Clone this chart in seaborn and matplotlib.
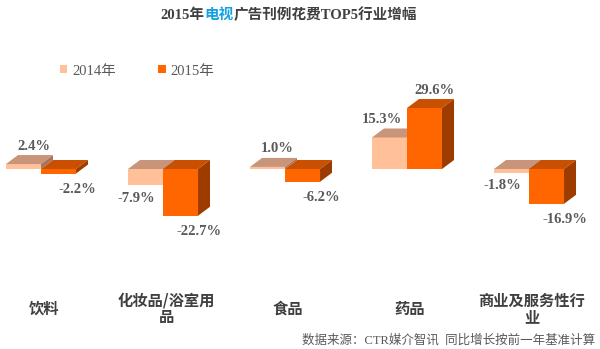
import numpy as np
import pandas as pd
import matplotlib
matplotlib.use("Agg")
import matplotlib.pyplot as plt
import matplotlib.transforms as mtransforms
import seaborn as sns
from matplotlib.patches import Polygon, Patch

# ---- data ----
categories = ["饮料", "化妆品/浴室用\n品", "食品", "药品", "商业及服务性行\n业"]
years = ["2014年", "2015年"]
growth_2014 = [2.4, -7.9, 1.0, 15.3, -1.8]
growth_2015 = [-2.2, -22.7, -6.2, 29.6, -16.9]

title_parts = ["2015年", "电视", "广告刊例花费TOP5行业增幅"]
source_text = "数据来源：CTR媒介智讯  同比增长按前一年基准计算"

# ---- styles ----
front_colors = ["#FFC09A", "#FF6600"]
top_colors = ["#C8957B", "#C85000"]
side_colors = ["#A8765E", "#9E3C00"]
DX, DY = 12, 9  # depth offset in pixels

df = pd.DataFrame({
    "行业": categories * 2,
    "年份": [years[0]] * len(categories) + [years[1]] * len(categories),
    "增幅": growth_2014 + growth_2015,
})

sns.set_theme(style="white")
plt.rcParams["font.family"] = ["Liberation Serif", "Noto Sans CJK SC", "DejaVu Sans"]

W, H = 600, 349
fig = plt.figure(figsize=(W / 100, H / 100), dpi=100)
ax = fig.add_axes([0, 0, 1, 1])

sns.barplot(data=df, x="行业", y="增幅", hue="年份", palette=front_colors,
            width=0.574, saturation=1, errorbar=None, linewidth=0,
            legend=False, ax=ax)

# pixel mapping: category centers at 41 + 122*i ; baseline 169px from top, 2.06 px per %
cx0, cstep = 41, 122
base_from_bottom = H - 169
ppu = 2.06
ax.set_xlim(-cx0 / cstep, (W - cx0) / cstep)
ax.set_ylim(-base_from_bottom / ppu, (H - base_from_bottom) / ppu)
ax.axis("off")

to_disp = ax.transData.transform
to_data = ax.transData.inverted().transform

label_color = "#595959"
label_font = dict(fontsize=10.5, fontweight="bold", color=label_color,
                  family=["Liberation Serif", "Noto Sans CJK SC"])

vals_by_hue = [growth_2014, growth_2015]
for h, cont in enumerate(ax.containers):
    for i, rect in enumerate(cont):
        rect.set_zorder(2 + h)
        x0, y0 = rect.get_x(), rect.get_y()
        w, hh = rect.get_width(), rect.get_height()
        (xl, ya), (xr, yb) = to_disp([(x0, y0), (x0 + w, y0 + hh)])
        yt, ybot = max(ya, yb), min(ya, yb)
        top = [(xl, yt), (xr, yt), (xr + DX, yt + DY), (xl + DX, yt + DY)]
        side = [(xr, ybot), (xr, yt), (xr + DX, yt + DY), (xr + DX, ybot + DY)]
        ax.add_patch(Polygon(to_data(top), closed=True, facecolor=top_colors[h],
                             edgecolor="none", zorder=2 + h))
        ax.add_patch(Polygon(to_data(side), closed=True, facecolor=side_colors[h],
                             edgecolor="none", zorder=2 + h))
        v = vals_by_hue[h][i]
        other = vals_by_hue[1 - h][i]
        txt = f"{v:.1f}%"
        if v >= 0:
            ly = yt + DY + 9
            if h == 0 and other > v:
                lx, ha = xr - 5, "right"
            else:
                lx, ha = (xl + xr) / 2 + 10, "center"
        else:
            if h == 0:
                lx, ly, ha = xl + 8, ybot - 13, "center"
            else:
                lx, ly, ha = xr + 1, ybot - 16, "center"
        px, py = to_data([(lx, ly)])[0]
        ax.text(px, py, txt, ha=ha, va="center", zorder=5, **label_font)

# category labels (x in data units, y in figure pixels from bottom)
cat_trans = mtransforms.blended_transform_factory(
    ax.transData, mtransforms.Affine2D().scale(1.0) + mtransforms.IdentityTransform())
for i, cat in enumerate(categories):
    xd = to_data([(cx0 + cstep * i + 3, 0)])[0][0]
    ax.text(xd, 40, cat, transform=cat_trans,
            ha="center", va="center", fontsize=11, fontweight="bold", color="#3F3F3F",
            family=["Noto Sans CJK SC"], linespacing=1.0)

# legend
handles = [Patch(facecolor=c, edgecolor="none") for c in front_colors]
leg = ax.legend(handles, years, loc="center left",
                bbox_to_anchor=(60 / W, 1 - 71 / H), bbox_transform=fig.transFigure,
                ncol=2, frameon=False, borderaxespad=0, borderpad=0,
                handlelength=0.5, handleheight=0.5, handletextpad=0.35,
                columnspacing=2.9,
                prop=dict(family=["Liberation Serif", "Noto Sans CJK SC"], size=10.5))
for t in leg.get_texts():
    t.set_color(label_color)

# title with coloured part
title_kw = dict(fontsize=10.5, fontweight="bold",
                family=["Liberation Serif", "Noto Sans CJK SC"])
t1 = fig.text(160 / W, 1 - 15 / H, title_parts[0], ha="left", va="center",
              color="#404040", **title_kw)
t2 = ax.annotate(title_parts[1], xy=(1, 0), xycoords=t1, ha="left", va="bottom",
                 color="#12A2E2", **title_kw)
t3 = ax.annotate(title_parts[2], xy=(1, 0), xycoords=t2, ha="left", va="bottom",
                 color="#404040", **title_kw)

# source
fig.text(595 / W, 9 / H, source_text, ha="right", va="center", fontsize=9,
         color=label_color, family=["Liberation Serif", "Noto Sans CJK SC"])

fig.savefig("out.png", dpi=100)
